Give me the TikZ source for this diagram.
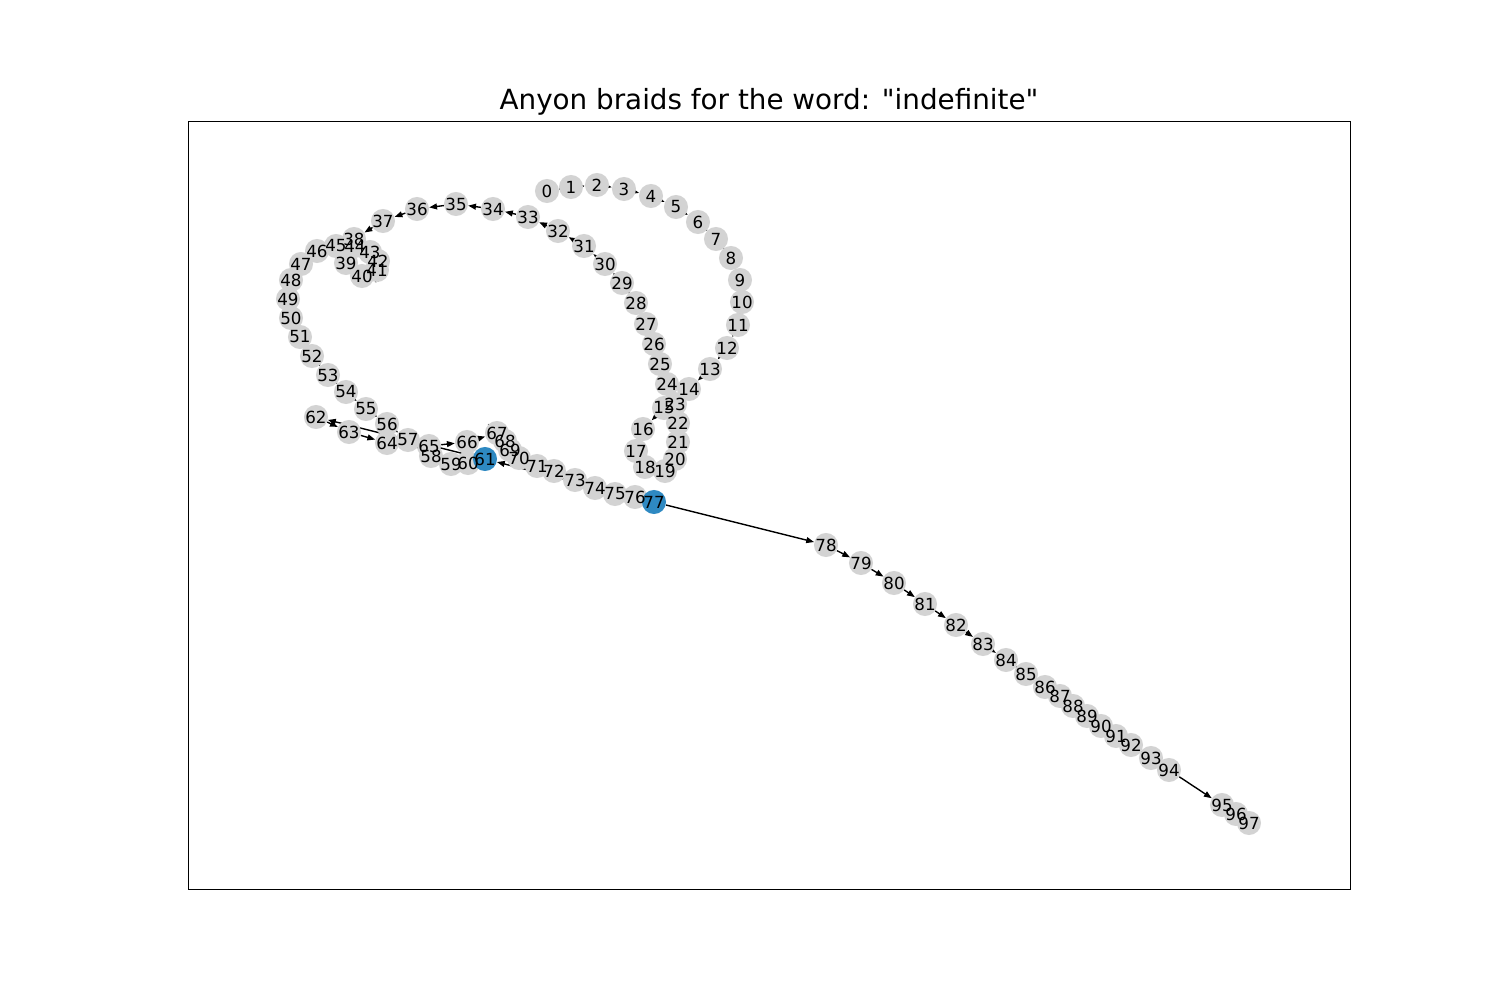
\documentclass[tikz,border=0pt]{standalone}
\usepackage{fontspec}
\setmainfont{DejaVu Sans}
\newfontfamily\plainfont{DejaVu Sans}[Ligatures=TeXOff]
\usetikzlibrary{arrows.meta}
\pgfdeclarelayer{background}
\pgfsetlayers{background,main}
\definecolor{ngray}{HTML}{D3D3D3}
\definecolor{nblue}{HTML}{2E89C2}
\tikzset{
  gnode/.style={circle, fill=ngray, draw=none, inner sep=0pt, minimum size=17.32bp},
  bnode/.style={circle, fill=nblue, draw=none, inner sep=0pt, minimum size=17.32bp},
  glab/.style={inner sep=0pt, font=\fontsize{12bp}{14bp}\selectfont, text=black},
  edge/.style={draw=black, line width=1bp, -{Triangle[length=5.6bp,width=4.2bp]}},
  frame/.style={draw=black, line width=0.8bp}
}
\begin{document}
\begin{tikzpicture}[x=0.01in, y=-0.01in]
\useasboundingbox (0,0) rectangle (1500,1000);
\node[frame, minimum width=1162*0.01in, minimum height=768*0.01in, inner sep=0pt, anchor=north west] (ax) at (188,121) {};
\node[font=\plainfont\fontsize{20bp}{24bp}\selectfont] (title) at (769,102) {Anyon braids for the word: "indefinite"};
\foreach \i/\x/\y in {
0/547/191, 1/571/187, 2/597/185, 3/624/189, 4/651/196, 5/676/207, 6/698/222, 7/716/239, 8/731/258, 9/740/280,
10/742/302, 11/738/325, 12/727/348, 13/710/369, 14/689/389, 15/664/408, 16/643/429, 17/636/451, 18/645/467, 19/665/471,
20/675/459, 21/678/442, 22/678/423, 23/675/404, 24/667/384, 25/660/364, 26/654/344, 27/646/324, 28/636/303, 29/622/283,
30/605/264, 31/584/246, 32/558/231, 33/528/217, 34/493/209, 35/456/204, 36/417/209, 37/383/221, 38/354/239, 39/346/263,
40/362/276, 41/377/270, 42/378/261, 43/370/252, 44/355/246, 45/336/246, 46/317/251, 47/301/264, 48/291/280, 49/288/299,
50/291/318, 51/300/337, 52/312/356, 53/328/375, 54/346/392, 55/366/409, 56/387/424, 57/408/440, 58/431/456, 59/451/464,
60/468/463, 62/316/417, 63/349/432, 64/387/443, 65/429/446, 66/467/442, 67/497/433, 68/505/441, 69/510/450,
70/519/458, 71/537/466, 72/554/471, 73/575/480, 74/595/488, 75/615/494, 76/635/497, 78/826/545, 79/861/563,
80/894/583, 81/925/604, 82/956/625, 83/983/644, 84/1006/660, 85/1026/674, 86/1045/687, 87/1060/696, 88/1073/706, 89/1087/716,
90/1101/726, 91/1116/736, 92/1131/745, 93/1151/758, 94/1169/770, 95/1222/805, 96/1236/814, 97/1249/823}
  \node[gnode] (n\i) at (\x,\y) {};
\node[bnode] (n61) at (485,459) {};
\node[bnode] (n77) at (654,502) {};
\foreach \i in {0,...,97}
  \node[glab] (l\i) at (n\i) {\i};
\begin{pgfonlayer}{background}
\foreach \i in {0,...,96}{
  \pgfmathtruncatemacro{\j}{\i+1}
  \draw[edge] (n\i) -- (n\j);
}
\draw[edge] (n77) -- (n61);
\end{pgfonlayer}
\end{tikzpicture}
\end{document}
